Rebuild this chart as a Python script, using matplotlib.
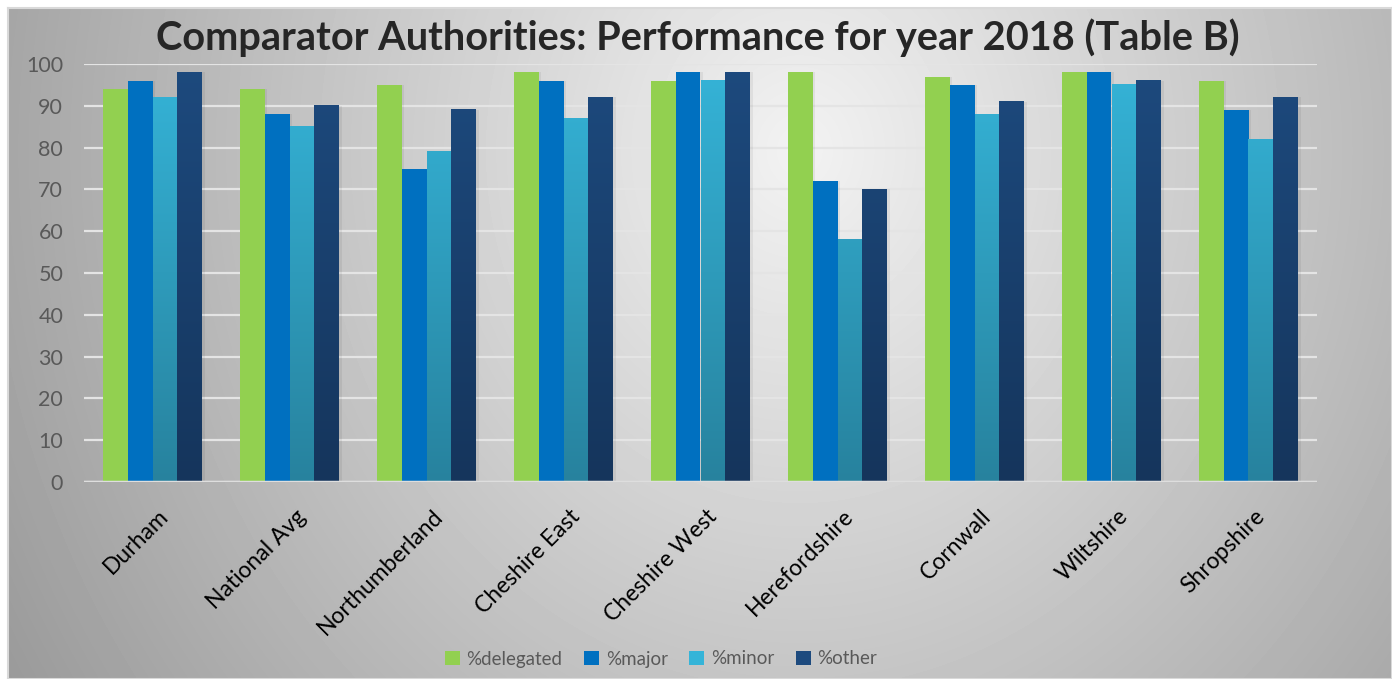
"""
Comparator authorities performance chart (Table B)
"""

import matplotlib
matplotlib.use('Agg')
import matplotlib.pyplot as plt
import numpy as np
from matplotlib.colors import LinearSegmentedColormap
from matplotlib.patches import Patch

# Data
authorities = ['Durham', 'National Avg', 'Northumberland', 'Cheshire East', 'Cheshire West',
               'Herefordshire', 'Cornwall', 'Wiltshire', 'Shropshire']
delegated = [94, 94, 95, 98, 96, 98, 97, 98, 96]
major = [96, 88, 75, 96, 98, 72, 95, 98, 89]
minor = [92, 85, 79, 87, 96, 58, 88, 95, 82]
other = [98, 90, 89, 92, 98, 70, 91, 96, 92]
series_names = ['%delegated', '%major', '%minor', '%other']
yticks = [0, 10, 20, 30, 40, 50, 60, 70, 80, 90, 100]

# (top colour, bottom colour) for each series
series_colors = [('#92d050', '#92d050'),
                 ('#0070c0', '#0070c0'),
                 ('#35b4d8', '#27829e'),
                 ('#1d4a7e', '#15355c')]

plt.rcParams['font.family'] = ['Lato', 'DejaVu Sans']

W, H = 1392, 679
fig = plt.figure(figsize=(W / 100, H / 100), dpi=100)
fig.patch.set_facecolor('white')

# Background with radial gradient
bg = fig.add_axes([8 / W, 0, 1 - 8 / W, 1 - 8 / H])
bg.set_xticks([])
bg.set_yticks([])
gx, gy = np.meshgrid(np.linspace(8, W, 400), np.linspace(8, H, 200))
r = np.sqrt(((gx - 800) / 800) ** 2 + ((gy - 150) / 900) ** 2)
val = np.clip(0.95 - 0.30 * r, 0.6, 0.96)
bg.imshow(val, cmap='gray', vmin=0, vmax=1, aspect='auto', extent=(0, 1, 0, 1),
          interpolation='bilinear')
bg.set_xlim(0, 1)
bg.set_ylim(0, 1)
for s in bg.spines.values():
    s.set_color('#d9d9d9')
    s.set_linewidth(1.5)

ax = fig.add_axes([84 / W, 1 - 482 / H, (1317 - 84) / W, (482 - 64) / H])
ax.patch.set_alpha(0)

x = np.arange(len(authorities))
w = 0.182
all_series = [delegated, major, minor, other]

for i, (vals, (ctop, cbot)) in enumerate(zip(all_series, series_colors)):
    pos = x + (i - 1.5) * w
    # soft shadow
    ax.bar(pos + 0.02, vals, width=w, color='black', alpha=0.06, zorder=2, linewidth=0)
    bars = ax.bar(pos, vals, width=w, color=ctop, zorder=3, linewidth=0)
    if ctop != cbot:
        cmap = LinearSegmentedColormap.from_list('g%d' % i, [cbot, ctop])
        grad = np.linspace(0, 1, 256).reshape(-1, 1)
        for b in bars:
            x0 = b.get_x()
            h = b.get_height()
            grad_part = grad[: max(2, int(256 * h / 100))]
            ax.imshow(grad_part, cmap=cmap, vmin=0, vmax=1, origin='lower', aspect='auto',
                      extent=(x0, x0 + b.get_width(), 0, h), zorder=4)

ax.set_xlim(-0.5, len(authorities) - 0.5)
ax.set_ylim(0, 100)
ax.set_yticks(yticks)
ax.yaxis.grid(True, color='#e4e4e4', linewidth=1.6, zorder=1)
ax.set_axisbelow(True)
for s in ax.spines.values():
    s.set_visible(False)
ax.axhline(0, color='#dedede', linewidth=2.5, zorder=5)
ax.tick_params(axis='y', length=0, pad=15, labelsize=15.5, labelcolor='#595959')
ax.tick_params(axis='x', length=0, pad=17, labelsize=16.5, labelcolor='black')
ax.set_xticks(x + 0.04)
ax.set_xticklabels(authorities, rotation=45, ha='right', rotation_mode='anchor')

fig.text(0.501, 1 - 38 / H, 'Comparator Authorities: Performance for year 2018 (Table B)',
         ha='center', va='center', fontsize=28.6, fontweight='bold', color='#262626')

handles = [Patch(facecolor=c[0], edgecolor='none') for c in series_colors]
leg = fig.legend(handles, series_names, loc='center', bbox_to_anchor=(661 / W, 1 - 659 / H),
                 ncol=4, frameon=False, fontsize=13.5, handlelength=0.8, handleheight=0.8,
                 columnspacing=1.15, handletextpad=0.35)
for t in leg.get_texts():
    t.set_color('#595959')

fig.savefig('out.png', dpi=100)
